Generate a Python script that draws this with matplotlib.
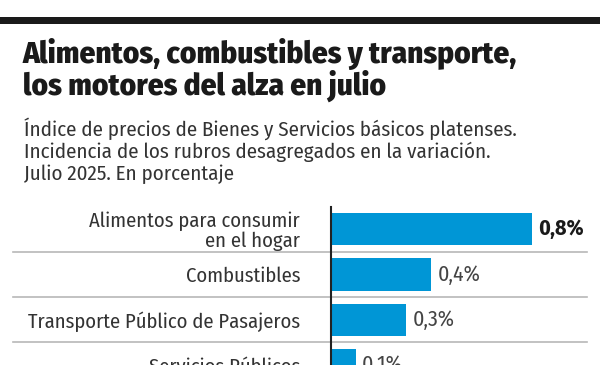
import matplotlib
matplotlib.use('Agg')
import matplotlib.pyplot as plt

# Datos: incidencia de los rubros en la variación de julio 2025
rubros = ['Alimentos para consumir\nen el hogar', 'Combustibles',
          'Transporte Público de Pasajeros', 'Servicios Públicos']
incidencia = [0.8, 0.4, 0.3, 0.1]
etiquetas = ['0,8%', '0,4%', '0,3%', '0,1%']

titulo = ['Alimentos, combustibles y transporte,', 'los motores del alza en julio']
bajada = ['Índice de precios de Bienes y Servicios básicos platenses.',
          'Incidencia de los rubros desagregados en la variación.',
          'Julio 2025. En porcentaje']

FONT = ['Fira Sans Condensed', 'DejaVu Sans']
AZUL = '#0096d6'
W, H = 600, 365

fig = plt.figure(figsize=(6, 3.65), dpi=100, facecolor='white')

def fx(x):
    return x / W

def fy(y):
    return 1 - y / H

# franja negra superior
fig.add_artist(plt.Rectangle((0, fy(24)), 1, 7 / H, color='#1a1a1a',
                             transform=fig.transFigure, lw=0))

for k, linea in enumerate(titulo):
    fig.text(fx(23), fy(63.3 + 31 * k), linea, family=FONT, weight=800,
             fontsize=22.4, color='#1a1a1a', va='baseline')

for k, linea in enumerate(bajada):
    fig.text(fx(24), fy(136 + 22 * k), linea, family=FONT, fontsize=15.1,
             color='#333333', va='baseline')

# grafico de barras
ax = fig.add_axes([fx(331), 0, fx(600) - fx(331), (H - 207) / H])
pos = list(range(len(rubros)))
ax.barh(pos, incidencia, height=0.713, color=AZUL)
ax.set_xlim(0, 269 / 251)
ax.set_ylim((365 - 229.5) / 46.3, -22.5 / 46.3)

for s in ['top', 'right', 'bottom']:
    ax.spines[s].set_visible(False)
ax.spines['left'].set_color('#222222')
ax.spines['left'].set_linewidth(1.5)
ax.set_xticks([])
ax.set_yticks(pos, rubros)
ax.tick_params(axis='y', length=0, pad=22.3, labelsize=14.8, labelcolor='#333333')
for lbl in ax.get_yticklabels():
    lbl.set_family(FONT)
    lbl.set_linespacing(1.0)

for i in range(len(rubros) - 1):
    ax.axhline(i + 0.5, xmin=(13 - 331) / 269, xmax=(587 - 331) / 269,
               color='#b8b8b8', lw=1.2, clip_on=False)

for i, (v, t) in enumerate(zip(incidencia, etiquetas)):
    negrita = i == 0
    ax.text(v + 6 / 251, i, t, va='center', ha='left', family=FONT,
            fontsize=15.7, weight='bold' if negrita else 'normal',
            color='#1a1a1a' if negrita else '#444444')

fig.savefig('out.png', dpi=100, facecolor='white')
